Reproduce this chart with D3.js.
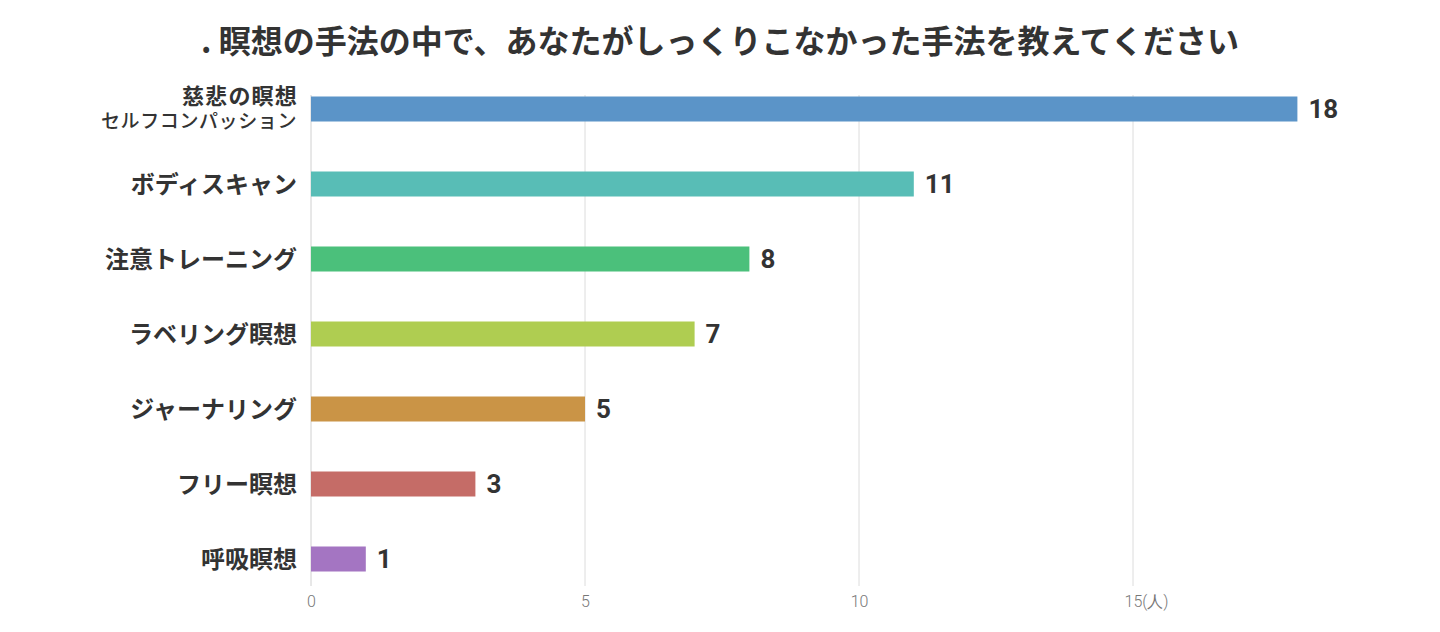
<!DOCTYPE html>
<html>
<head>
<meta charset="utf-8">
<script src="https://cdn.jsdelivr.net/npm/d3@7"></script>
<style>
  body { margin: 0; background: #fff; }
  .cjk { font-family: "Noto Sans CJK JP", "Noto Sans", sans-serif; }
  .num { font-family: Roboto, "Noto Sans", sans-serif; }
</style>
</head>
<body>
<div id="chart"></div>
<script>
var width = 1440,
    height = 632;

var title = ". 瞑想の手法の中で、あなたがしっくりこなかった手法を教えてください";

var categories = ["慈悲の瞑想\nセルフコンパッション", "ボディスキャン", "注意トレーニング", "ラベリング瞑想", "ジャーナリング", "フリー瞑想", "呼吸瞑想"];
var values = [18, 11, 8, 7, 5, 3, 1];
var colors = ["#5b94c8", "#58bdb6", "#4bc07b", "#afcd51", "#ca9446", "#c56c67", "#a475c2"];
var ticks = [0, 5, 10, 15];

var data = categories.map(function(c, i) {
  return { name: c, value: values[i], color: colors[i] };
});

var svg = d3.select("#chart")
  .append("svg")
  .attr("width", width)
  .attr("height", height);

var x = d3.scaleLinear()
  .domain([0, 20])
  .range([311, 311 + 54.8 * 20]);

// 75px per row, 25px bars
var y = d3.scaleBand()
  .domain(categories)
  .range([96.5, 571.5])
  .paddingInner(2 / 3)
  .paddingOuter(0);

// title
svg.append("text")
  .attr("class", "cjk")
  .attr("x", 720)
  .attr("y", 53)
  .attr("text-anchor", "middle")
  .attr("font-size", 32)
  .attr("font-weight", "bold")
  .attr("fill", "#333")
  .text(title);

// grid lines
svg.selectAll(".grid")
  .data(ticks.slice(1))
  .enter().append("line")
  .attr("class", "grid")
  .attr("x1", function(d) { return x(d); })
  .attr("x2", function(d) { return x(d); })
  .attr("y1", 95)
  .attr("y2", 586)
  .attr("stroke", "#dcdcdc")
  .attr("stroke-width", 1);

// baseline
svg.append("line")
  .attr("x1", x(0)).attr("x2", x(0))
  .attr("y1", 95).attr("y2", 586)
  .attr("stroke", "#d0d0d0");

// x axis tick labels
var axis = d3.axisBottom(x).tickValues(ticks).tickSize(0)
  .tickFormat(function(d) { return d === 15 ? "15(人)" : d; });

var ax = svg.append("g")
  .attr("transform", "translate(0,590)")
  .call(axis);
ax.select(".domain").remove();
ax.selectAll("text")
  .attr("class", "num")
  .attr("font-weight", 300)
  .attr("font-size", 16)
  .attr("fill", "#777")
  .attr("dy", "0.9em");
ax.selectAll(".tick")
  .filter(function(d) { return d === 15; })
  .select("text")
  .attr("text-anchor", "start")
  .attr("dx", -9);

// bars
svg.selectAll(".bar")
  .data(data)
  .enter().append("rect")
  .attr("class", "bar")
  .attr("x", x(0))
  .attr("y", function(d) { return y(d.name); })
  .attr("width", function(d) { return x(d.value) - x(0); })
  .attr("height", y.bandwidth())
  .attr("fill", function(d) { return d.color; });

// value labels
svg.selectAll(".val")
  .data(data)
  .enter().append("text")
  .attr("class", "val num")
  .attr("x", function(d) { return x(d.value) + 11; })
  .attr("y", function(d) { return y(d.name) + y.bandwidth() / 2; })
  .attr("dy", "0.36em")
  .attr("font-weight", "bold")
  .attr("font-size", 26)
  .attr("fill", "#333")
  .text(function(d) { return d.value; });

// category labels
var labels = svg.selectAll(".cat")
  .data(data)
  .enter().append("text")
  .attr("class", "cat cjk")
  .attr("text-anchor", "end")
  .attr("font-size", 24)
  .attr("font-weight", "bold")
  .attr("fill", "#333");

labels.each(function(d) {
  var lines = d.name.split("\n");
  var cy = y(d.name) + y.bandwidth() / 2;
  var el = d3.select(this);
  if (lines.length === 1) {
    el.append("tspan")
      .attr("x", 297)
      .attr("y", cy)
      .attr("dy", "0.36em")
      .text(lines[0]);
  } else {
    el.append("tspan")
      .attr("x", 298)
      .attr("y", cy - 12.5)
      .attr("dy", "0.36em")
      .attr("font-size", 22)
      .attr("letter-spacing", 1.2)
      .text(lines[0]);
    el.append("tspan")
      .attr("x", 297)
      .attr("y", cy + 12)
      .attr("dy", "0.36em")
      .attr("font-size", 19)
      .attr("letter-spacing", 0.6)
      .attr("font-weight", 500)
      .text(lines[1]);
  }
});
</script>
</body>
</html>
